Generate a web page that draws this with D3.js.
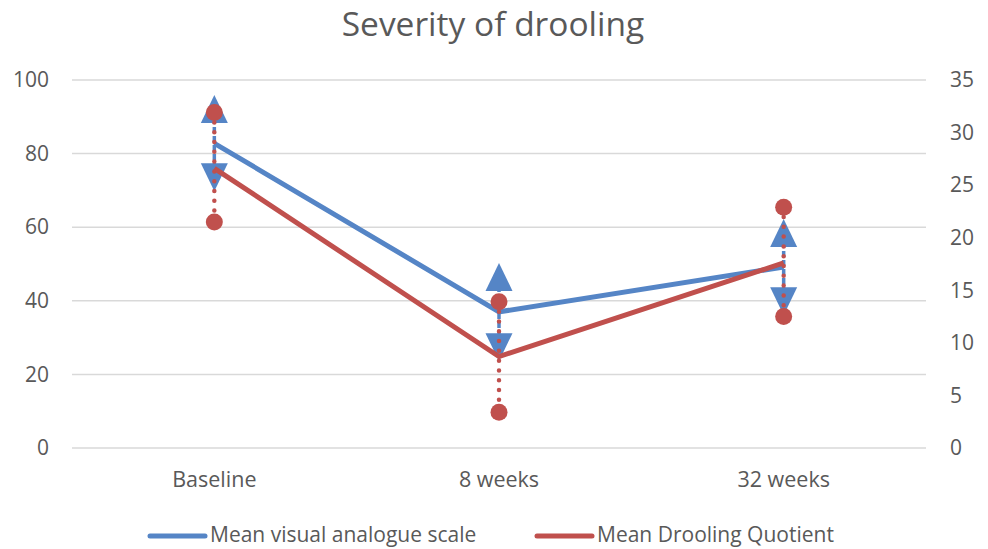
<!DOCTYPE html>
<html>
<head>
<meta charset="utf-8">
<script src="https://cdn.jsdelivr.net/npm/d3@7"></script>
<style>
  html, body { margin: 0; padding: 0; background: #ffffff; }
  svg { display: block; }
  text { font-family: "Open Sans", "Noto Sans", sans-serif; fill: #595959; }
</style>
</head>
<body>
<svg id="chart" width="988" height="549"></svg>
<script>
const categories = ["Baseline", "8 weeks", "32 weeks"];
const vasMean = [82.8, 37.0, 49.2];
const vasHigh = [92.1, 46.5, 58.4];
const vasLow  = [73.6, 27.4, 39.9];
const dqMean  = [26.6, 8.7, 17.6];
const dqHigh  = [31.9, 13.9, 22.9];
const dqLow   = [21.5, 3.4, 12.5];
const leftTicks  = [0, 20, 40, 60, 80, 100];
const rightTicks = [0, 5, 10, 15, 20, 25, 30, 35];
const seriesNames = ["Mean visual analogue scale", "Mean Drooling Quotient"];
const title = "Severity of drooling";

const blue = "#5585C6";
const red = "#C0504D";

const svg = d3.select("#chart");
const plot = { left: 72, right: 926, top: 80, bottom: 448 };

const x = d3.scaleBand().domain(categories).range([plot.left, plot.right]);
const cx = d => x(d) + x.bandwidth() / 2;
const yL = d3.scaleLinear().domain([0, 100]).range([plot.bottom, plot.top]);
const yR = d3.scaleLinear().domain([0, 35]).range([plot.bottom, plot.top]);

// title
svg.append("text").attr("x", 493).attr("y", 36).attr("text-anchor", "middle")
  .style("font-size", "33.5px").text(title);

// gridlines
svg.append("g").selectAll("line").data(leftTicks).join("line")
  .attr("x1", plot.left).attr("x2", plot.right)
  .attr("y1", d => yL(d)).attr("y2", d => yL(d))
  .attr("stroke", "#D9D9D9").attr("stroke-width", 1.5);

const axisFont = "21px";

// left axis labels
const axL = d3.axisLeft(yL).tickValues(leftTicks).tickSize(0).tickPadding(0);
const gL = svg.append("g").attr("transform", "translate(49,0)").call(axL);
gL.select(".domain").remove();
gL.selectAll("text").style("font-size", axisFont).attr("fill", "#595959")
  .style("font-family", '"Open Sans", sans-serif');

// right axis labels
const axR = d3.axisRight(yR).tickValues(rightTicks).tickSize(0).tickPadding(0);
const gR = svg.append("g").attr("transform", "translate(950,0)").call(axR);
gR.select(".domain").remove();
gR.selectAll("text").style("font-size", axisFont).attr("fill", "#595959")
  .style("font-family", '"Open Sans", sans-serif');

// x axis labels
const axX = d3.axisBottom(x).tickSize(0).tickPadding(0);
const gX = svg.append("g").attr("transform", "translate(0,472)").call(axX);
gX.select(".domain").remove();
gX.selectAll("text").style("font-size", "21.5px").attr("fill", "#595959")
  .style("font-family", '"Open Sans", sans-serif');

// blue dashed error segments
svg.append("g").selectAll("line").data(categories).join("line")
  .attr("x1", d => cx(d)).attr("x2", d => cx(d))
  .attr("y1", (d, i) => yL(vasHigh[i])).attr("y2", (d, i) => yL(vasLow[i]))
  .attr("stroke", blue).attr("stroke-width", 3.5).attr("stroke-dasharray", "6,3");

// blue mean line
const lineL = d3.line().x((d, i) => cx(categories[i])).y(d => yL(d));
svg.append("path").datum(vasMean).attr("d", lineL)
  .attr("fill", "none").attr("stroke", blue).attr("stroke-width", 5).attr("stroke-linejoin", "miter");

// blue triangles
const triUp = "M0,-14L13.5,14L-13.5,14Z";
const triDown = "M0,14L13.5,-14L-13.5,-14Z";
svg.append("g").selectAll("path").data(categories).join("path")
  .attr("transform", (d, i) => `translate(${cx(d)},${yL(vasHigh[i])})`)
  .attr("d", triUp).attr("fill", blue);
svg.append("g").selectAll("path").data(categories).join("path")
  .attr("transform", (d, i) => `translate(${cx(d)},${yL(vasLow[i])})`)
  .attr("d", triDown).attr("fill", blue);

// red dotted error segments
svg.append("g").selectAll("line").data(categories).join("line")
  .attr("x1", d => cx(d)).attr("x2", d => cx(d))
  .attr("y1", (d, i) => yR(dqHigh[i])).attr("y2", (d, i) => yR(dqLow[i]))
  .attr("stroke", red).attr("stroke-width", 4.5).attr("stroke-linecap", "round")
  .attr("stroke-dasharray", "0,9.8");

// red mean line
const lineR = d3.line().x((d, i) => cx(categories[i])).y(d => yR(d));
svg.append("path").datum(dqMean).attr("d", lineR)
  .attr("fill", "none").attr("stroke", red).attr("stroke-width", 5);

// red circles
svg.append("g").selectAll("circle").data(categories.flatMap((c, i) => [[c, dqHigh[i]], [c, dqLow[i]]]))
  .join("circle").attr("cx", d => cx(d[0])).attr("cy", d => yR(d[1])).attr("r", 8.5).attr("fill", red);

// legend
const legend = svg.append("g");
const legendItems = [
  { name: seriesNames[0], color: blue, x0: 150 },
  { name: seriesNames[1], color: red, x0: 537 }
];
legendItems.forEach(it => {
  legend.append("line").attr("x1", it.x0).attr("x2", it.x0 + 55)
    .attr("y1", 536).attr("y2", 536).attr("stroke", it.color).attr("stroke-width", 5)
    .attr("stroke-linecap", "round");
  legend.append("text").attr("x", it.x0 + 60).attr("y", 535).attr("dy", "0.35em")
    .style("font-size", "21px").text(it.name);
});
</script>
</body>
</html>
